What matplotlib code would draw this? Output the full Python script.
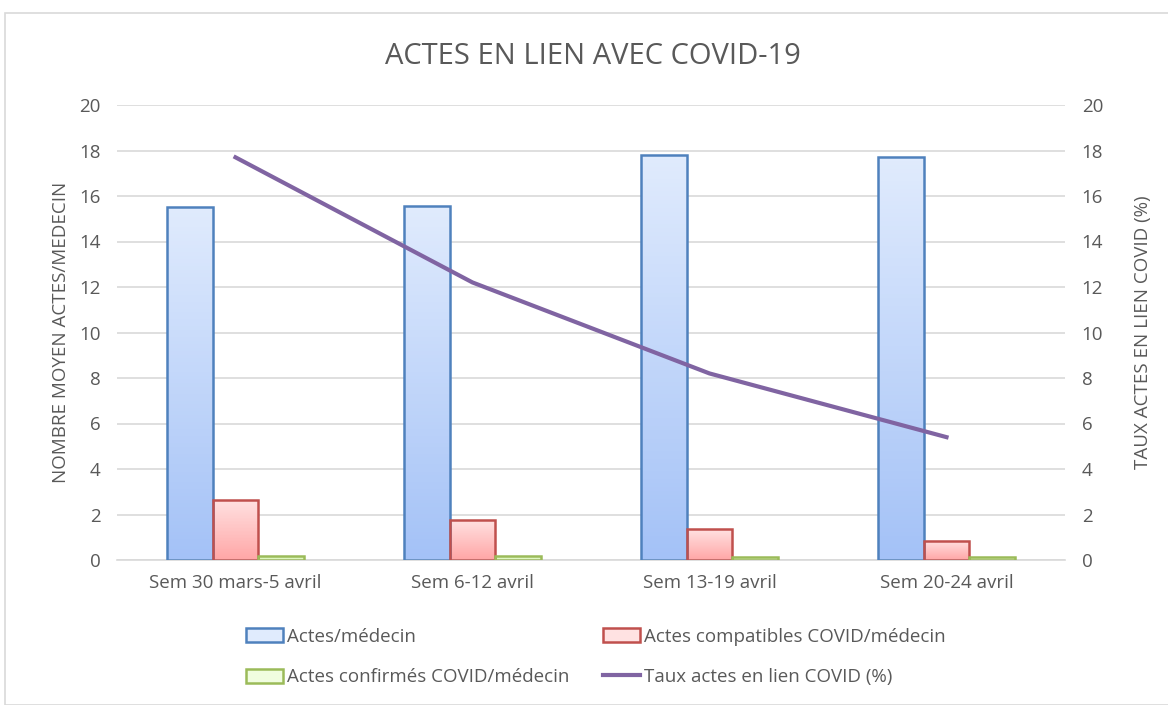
import numpy as np
import matplotlib
matplotlib.use("Agg")
import matplotlib.pyplot as plt
from matplotlib.patches import Rectangle, Patch
from matplotlib.lines import Line2D
from matplotlib.colors import LinearSegmentedColormap

plt.rcParams["font.family"] = ["Open Sans", "DejaVu Sans"]

weeks = ["Sem 30 mars-5 avril", "Sem 6-12 avril", "Sem 13-19 avril", "Sem 20-24 avril"]
actes = [15.52, 15.56, 17.80, 17.71]
compatibles = [2.64, 1.76, 1.36, 0.84]
confirmes = [0.18, 0.16, 0.15, 0.12]
taux = [17.7, 12.2, 8.2, 5.4]

grey = "#595959"

fig = plt.figure(figsize=(11.68, 7.05), dpi=100)
fig.patches.append(Rectangle((5 / 1168, 0), 1.0, 1 - 13 / 705, transform=fig.transFigure,
                             fill=False, edgecolor="#d9d9d9", linewidth=1.2))

ax = fig.add_axes([117 / 1168, 1 - 560 / 705, 948 / 1168, 455 / 705])
ax2 = ax.twinx()

x = np.arange(len(weeks))
w = 0.194

series = [
    (actes, -w, "#4f81bd", "#e0ebfd", "#a4c2f7", "Actes/médecin"),
    (compatibles, 0, "#c0504d", "#ffe2e2", "#ffa6a6", "Actes compatibles COVID/médecin"),
    (confirmes, w, "#9bbb59", "#f0fde0", "#d6f5b0", "Actes confirmés COVID/médecin"),
]

handles = {}
for vals, off, edge, top_c, bot_c, label in series:
    cmap = LinearSegmentedColormap.from_list("g", [bot_c, top_c])
    bars = ax.bar(x + off, vals, w, facecolor="none", edgecolor=edge, linewidth=1.8, zorder=3)
    for b in bars:
        x0, y0 = b.get_x(), b.get_y()
        bw, bh = b.get_width(), b.get_height()
        grad = np.linspace(0, 1, 100).reshape(-1, 1)
        im = ax.imshow(grad, cmap=cmap, origin="lower", aspect="auto",
                       extent=[x0, x0 + bw, y0, y0 + bh], zorder=2)
        im.set_clip_path(b)
    handles[label] = Patch(facecolor=top_c, edgecolor=edge, linewidth=1.8, label=label)

ax2.plot(x, taux, color="#8064a2", linewidth=3, zorder=4)
handles["Taux actes en lien COVID (%)"] = Line2D([], [], color="#8064a2", linewidth=3,
                                                 label="Taux actes en lien COVID (%)")

ax.set_xlim(-0.5, 3.5)
ax.set_ylim(0, 20)
ax2.set_ylim(0, 20)
ax.set_yticks(range(0, 21, 2))
ax2.set_yticks(range(0, 21, 2))
ax.set_xticks(x)
ax.set_xticklabels(weeks)
ax.yaxis.grid(True, color="#d9d9d9", linewidth=1.2, zorder=0)
ax.set_axisbelow(True)

for a in (ax, ax2):
    for s in a.spines.values():
        s.set_visible(False)
    a.tick_params(axis="both", length=0, labelsize=13.5, labelcolor=grey, pad=12)
ax.spines["bottom"].set_visible(True)
ax.spines["bottom"].set_color("#d9d9d9")
ax.spines["bottom"].set_linewidth(1.2)
ax.tick_params(axis="x", pad=10)

ax.set_ylabel("NOMBRE MOYEN ACTES/MEDECIN", fontsize=13.5, color=grey, labelpad=6)
ax2.set_ylabel("TAUX ACTES EN LIEN COVID (%)", fontsize=13.5, color=grey, rotation=90,
               labelpad=22)

fig.text(0.508, 1 - 56 / 705, "ACTES EN LIEN AVEC COVID-19", ha="center", va="center",
         fontsize=21, color=grey)

order = ["Actes/médecin", "Actes confirmés COVID/médecin",
         "Actes compatibles COVID/médecin", "Taux actes en lien COVID (%)"]
fig.legend(handles=[handles[k] for k in order], ncol=2, loc="center",
           bbox_to_anchor=(0.51, 1 - 657 / 705), frameon=False, fontsize=13.5,
           labelcolor=grey, handlelength=2.0, handleheight=0.8, handletextpad=0.2,
           columnspacing=1.8, labelspacing=1.2)

fig.savefig("out.png", dpi=100)
